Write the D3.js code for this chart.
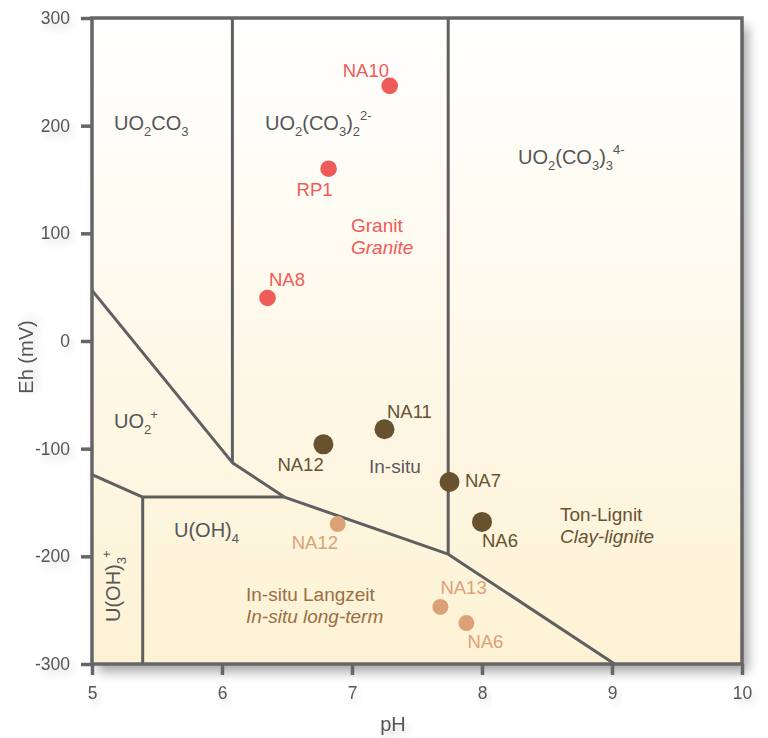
<!DOCTYPE html>
<html>
<head>
<meta charset="utf-8">
<script src="https://cdn.jsdelivr.net/npm/d3@7"></script>
<style>
  html, body { margin: 0; padding: 0; background: #fff; }
  svg { display: block; font-family: "Liberation Sans", Arial, Helvetica, sans-serif; }
</style>
</head>
<body>
<svg id="chart" width="768" height="738"></svg>
<script>
// Eh–pH stability fields of uranium species with groundwater samples

const xTicks = [5, 6, 7, 8, 9, 10];
const yTicks = [300, 200, 100, 0, -100, -200, -300];

// Field boundaries as [pH, Eh] polylines
const boundaryUpperVertical = [[6.08, 300], [6.08, -113]];
const boundaryCarbonateVertical = [[7.74, 300], [7.74, -198]];
const boundaryUO2plus = [[5.0, 47], [6.08, -113], [6.48, -145], [7.74, -198], [9.02, -300]];
const boundaryHorizontal = [[5.39, -145], [6.48, -145]];
const boundaryLeft = [[5.0, -124], [5.39, -145]];
const boundaryLowerVertical = [[5.39, -145], [5.39, -300]];

// Samples
const granitNames = ["NA10", "RP1", "NA8"];
const granitPH = [7.29, 6.82, 6.35];
const granitEh = [237, 160, 40];

const insituNames = ["NA12", "NA11", "NA7", "NA6"];
const insituPH = [6.78, 7.25, 7.75, 8.0];
const insituEh = [-96, -82, -131, -168];

const longNames = ["NA12", "NA13", "NA6"];
const longPH = [6.89, 7.68, 7.88];
const longEh = [-170, -247, -262];

const svg = d3.select("#chart");
const plotLeft = 92, plotRight = 742, plotTop = 18, plotBottom = 664;

const x = d3.scaleLinear().domain([5, 10]).range([plotLeft, plotRight]);
const y = d3.scaleLinear().domain([-300, 300]).range([plotBottom, plotTop]);

const defs = svg.append("defs");
const grad = defs.append("linearGradient")
  .attr("id", "bg").attr("x1", 0).attr("y1", 0).attr("x2", 0).attr("y2", 1);
grad.append("stop").attr("offset", "0%").attr("stop-color", "#ffffff");
grad.append("stop").attr("offset", "100%").attr("stop-color", "#fdf2d4");

const shadow = defs.append("filter").attr("id", "frameShadow")
  .attr("x", "-5%").attr("y", "-5%").attr("width", "115%").attr("height", "115%");
shadow.append("feGaussianBlur").attr("in", "SourceAlpha").attr("stdDeviation", 6).attr("result", "b");
shadow.append("feOffset").attr("in", "b").attr("dx", 6).attr("dy", 8).attr("result", "o");
shadow.append("feComponentTransfer").attr("in", "o").attr("result", "s")
  .append("feFuncA").attr("type", "linear").attr("slope", 0.35);
const m = shadow.append("feMerge");
m.append("feMergeNode").attr("in", "s");
m.append("feMergeNode").attr("in", "SourceGraphic");

const textShadow = defs.append("filter").attr("id", "textShadow")
  .attr("x", "-30%").attr("y", "-40%").attr("width", "170%").attr("height", "200%");
textShadow.append("feGaussianBlur").attr("in", "SourceAlpha").attr("stdDeviation", 4).attr("result", "b");
textShadow.append("feOffset").attr("in", "b").attr("dx", 3).attr("dy", 5).attr("result", "o");
textShadow.append("feComponentTransfer").attr("in", "o").attr("result", "s")
  .append("feFuncA").attr("type", "linear").attr("slope", 0.18);
const tm = textShadow.append("feMerge");
tm.append("feMergeNode").attr("in", "s");
tm.append("feMergeNode").attr("in", "SourceGraphic");

// Plot background with shadow
svg.append("rect")
  .attr("x", plotLeft).attr("y", plotTop)
  .attr("width", plotRight - plotLeft).attr("height", plotBottom - plotTop)
  .attr("fill", "url(#bg)")
  .attr("filter", "url(#frameShadow)");

const lineGen = d3.line().x(d => x(d[0])).y(d => y(d[1]));
const boundaryColor = "#5f5f62";
[boundaryUpperVertical, boundaryCarbonateVertical, boundaryUO2plus,
 boundaryHorizontal, boundaryLeft, boundaryLowerVertical].forEach(b => {
  svg.append("path").attr("d", lineGen(b))
    .attr("fill", "none").attr("stroke", boundaryColor)
    .attr("stroke-width", 3).attr("stroke-linejoin", "round");
});

// Frame
svg.append("rect")
  .attr("x", plotLeft).attr("y", plotTop)
  .attr("width", plotRight - plotLeft).attr("height", plotBottom - plotTop)
  .attr("fill", "none").attr("stroke", "#666668").attr("stroke-width", 3.5);

// Axes
const fmt = d => (d < 0 ? "-" : "") + Math.abs(d);
const xAxis = d3.axisBottom(x).tickValues(xTicks).tickFormat(fmt)
  .tickSize(11).tickSizeOuter(0).tickPadding(12);
const yAxis = d3.axisLeft(y).tickValues(yTicks).tickFormat(fmt)
  .tickSize(11).tickSizeOuter(0).tickPadding(11);

const gx = svg.append("g").attr("transform", `translate(0,${plotBottom})`).call(xAxis);
const gy = svg.append("g").attr("transform", `translate(${plotLeft},0)`).call(yAxis);
[gx, gy].forEach(g => {
  g.select(".domain").remove();
  g.selectAll(".tick line").attr("stroke", "#666668").attr("stroke-width", 3.5);
  g.selectAll(".tick text")
    .attr("fill", "#555557").attr("font-size", 17.5)
    .attr("font-family", "Liberation Sans, Arial, sans-serif")
    .attr("filter", "url(#textShadow)");
});

svg.append("text").attr("x", 393).attr("y", 731)
  .attr("text-anchor", "middle").attr("font-size", 20).attr("fill", "#555557")
  .attr("filter", "url(#textShadow)").text("pH");
svg.append("text")
  .attr("transform", `translate(33,357) rotate(-90)`)
  .attr("text-anchor", "middle").attr("font-size", 20).attr("fill", "#555557")
  .attr("filter", "url(#textShadow)").text("Eh (mV)");

// Species labels with sub/superscripts
const speciesColor = "#555558";
function species(parts, px, py, rotate) {
  const t = svg.append("text")
    .attr("font-size", 20).attr("fill", speciesColor)
    .attr("transform", rotate ? `translate(${px},${py}) rotate(-90)` : `translate(${px},${py})`);
  parts.forEach(p => {
    const s = t.append("tspan").text(p[0]);
    if (p[1] === "sub" || p[1] === "sup") s.attr("font-size", 13);
    if (p[2] !== undefined) s.attr("dy", p[2]);
    if (p[3] !== undefined) s.attr("dx", p[3]);
  });
  return t;
}

species([["UO"], ["2", "sub", 6], ["CO", null, -6], ["3", "sub", 6]], 114, 130);
species([["UO"], ["2", "sub", 6], ["(CO", null, -6], ["3", "sub", 6], [")", null, -6], ["2", "sub", 6], ["2-", "sup", -16]], 265, 130);
species([["UO"], ["2", "sub", 6], ["(CO", null, -6], ["3", "sub", 6], [")", null, -6], ["3", "sub", 6], ["4-", "sup", -16]], 518, 164);
species([["UO"], ["2", "sub", 6], ["+", "sup", -15, -1]], 114, 428);
species([["U(OH)"], ["4", "sub", 6]], 174, 537);
species([["U(OH)"], ["3", "sub", 6], ["+", "sup", -15, -1]], 120, 622, true);

// Region captions
function caption(lines, px, py, color) {
  lines.forEach((l, i) => {
    svg.append("text").attr("x", px).attr("y", py + i * 21.5)
      .attr("font-size", 19).attr("fill", color)
      .attr("font-style", l[1] ? "italic" : "normal").text(l[0]);
  });
}
caption([["Granit", false], ["Granite", true]], 351, 232, "#ee5a58");
caption([["In-situ", false]], 369, 473, "#5a5a5e");
caption([["Ton-Lignit", false], ["Clay-lignite", true]], 560, 521, "#6a5232");
caption([["In-situ Langzeit", false], ["In-situ long-term", true]], 246, 601, "#9a6e44");

// Sample points
function drawSeries(names, ph, eh, r, color, labelPos) {
  const data = names.map((n, i) => ({ name: n, ph: ph[i], eh: eh[i], lp: labelPos[i] }));
  svg.append("g").selectAll("circle").data(data).join("circle")
    .attr("cx", d => x(d.ph)).attr("cy", d => y(d.eh))
    .attr("r", r).attr("fill", color);
  svg.append("g").selectAll("text").data(data).join("text")
    .attr("x", d => x(d.ph) + d.lp[0]).attr("y", d => y(d.eh) + d.lp[1])
    .attr("font-size", 18.5).attr("fill", color).text(d => d.name);
}

drawSeries(granitNames, granitPH, granitEh, 8.3, "#ef5b58",
  [[-47, -9], [-32, 27], [1.5, -12]]);
drawSeries(insituNames, insituPH, insituEh, 10, "#67512f",
  [[-46, 27], [2.5, -11], [15.5, 5], [0, 25]]);
drawSeries(longNames, longPH, longEh, 8, "#dda177",
  [[-46, 25], [0, -13], [1, 25]]);
</script>
</body>
</html>
